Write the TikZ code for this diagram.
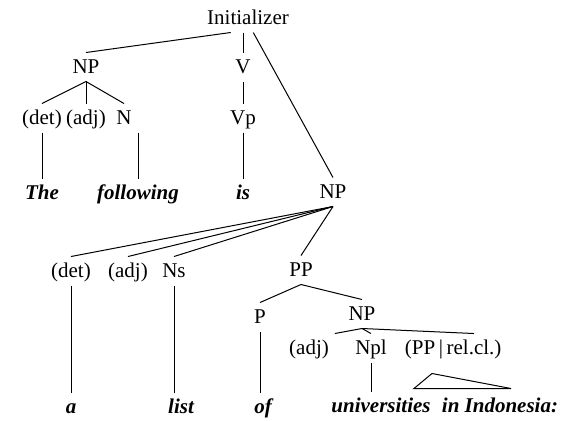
\documentclass[tikz,border=0pt]{standalone}
\usepackage{fontspec}
\setmainfont{Liberation Serif}
\usetikzlibrary{positioning}

\begin{document}
\begin{tikzpicture}[x=0.5pt, y=-0.5pt, line width=0.5pt,
    every node/.style={font=\fontsize{10.5}{12}\selectfont, inner sep=1.5pt,
        outer sep=1.5pt, text height=1.6ex, text depth=0.25ex},
    word/.style={font=\fontsize{10.5}{12}\selectfont\bfseries\itshape}]
    \useasboundingbox (0,0) rectangle (567,420);

    % upper tree
    \node at (248, 18)(init) {Initializer};
    \node at (86, 67)(npa) {NP};
    \node at (243, 67)(v) {V};
    \node at (42, 118)(deta) {(det)};
    \node at (86, 118)(adja) {(adj)};
    \node at (124, 118)(na) {N};
    \node at (243, 118)(vp) {Vp};
    \node[word] at (42, 193)(the) {The};
    \node[word] at (138, 193)(following) {following};
    \node[word] at (243, 193)(is) {is};
    \node at (333, 192)(npb) {NP};

    \draw (init.220) -- (npa.north);
    \draw (init.south -| v) -- (v.north);
    \draw (init.290) -- (npb.north);
    \draw (npa.south) -- (deta.north);
    \draw (npa.south) -- (adja.north);
    \draw (npa.south) -- (na.north);
    \draw (deta.south) -- (the.north);
    \draw (na.south -| following) -- (following.north);
    \draw (v.south) -- (vp.north);
    \draw (vp.south) -- (is.north);

    % lower tree
    \node at (71, 271)(detb) {(det)};
    \node at (128, 271)(adjb) {(adj)};
    \node at (174, 271)(ns) {Ns};
    \node at (301, 270)(pp) {PP};
    \node at (260, 317)(p) {P};
    \node at (362, 314)(npc) {NP};
    \node at (309, 348)(adjc) {(adj)};
    \node at (371, 348)(npl) {Npl};
    \node at (424, 348)(ppx) {(PP\,|};
    \node at (474, 348)(relcl) {rel.cl.)};
    \node[word] at (71, 407)(a) {a};
    \node[word] at (181, 407)(list) {list};
    \node[word] at (263, 407)(of) {of};
    \node[word] at (381, 406)(univ) {universities};
    \node[word] at (500, 406)(indo) {in Indonesia:};

    \draw (npb.south) -- (detb.north);
    \draw (npb.south) -- (adjb.north);
    \draw (npb.south) -- (ns.north);
    \draw (npb.south) -- (pp.north);
    \draw (detb.south) -- (a.north);
    \draw (ns.south) -- (ns.south |- list.north);
    \draw (pp.south) -- (p.north);
    \draw (pp.south) -- (npc.north);
    \draw (p.south) -- (p.south |- of.north);
    \draw (npc.south) -- (adjc.north east);
    \draw (npc.south) -- (npl.north);
    \draw (npc.south) -- (relcl.north);
    \draw (npl.south) -- (npl.south |- univ.north);
    \draw ([xshift=4pt]ppx.south) ++(0,11) -- ++(-18,15) -- ++(97,0) -- cycle;
\end{tikzpicture}
\end{document}
